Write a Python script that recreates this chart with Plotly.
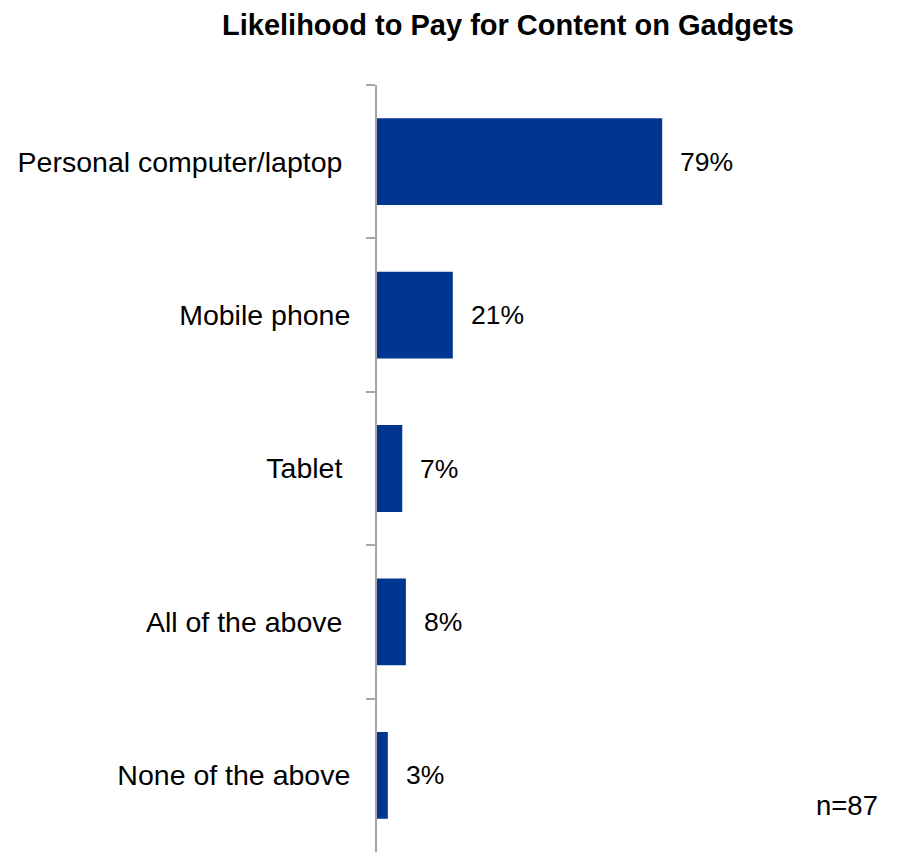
import plotly.graph_objects as go

# Survey responses (n=87)
devices = [
    "Personal computer/laptop\u00a0",
    "Mobile phone",
    "Tablet\u00a0",
    "All of the above\u00a0",
    "None of the above",
]
shares = [79, 21, 7, 8, 3]
sample_note = "n=87"
title_text = "<b>Likelihood to Pay for Content on Gadgets</b>"

bar_color = "#003591"
axis_color = "#A6A6A6"
font_family = "Liberation Sans, Arial, sans-serif"

W, H = 901, 852
L, R, T, B = 377, 163, 85, 0
plot_w, plot_h = W - L - R, H - T - B

fig = go.Figure(
    go.Bar(
        x=shares,
        y=devices,
        orientation="h",
        marker=dict(color=bar_color, line=dict(width=0)),
        width=0.566,
        hoverinfo="skip",
    )
)

# value labels to the right of each bar
for dev, val in zip(devices, shares):
    fig.add_annotation(
        x=val, y=dev, xref="x", yref="y",
        text=f"{val}%", showarrow=False,
        xanchor="left", xshift=16,
        font=dict(size=26.5, color="#000000", family=font_family),
    )

# sample size note, bottom right
fig.add_annotation(
    x=(880 - L) / plot_w, y=(H - 805) / plot_h,
    xref="paper", yref="paper",
    text=sample_note, showarrow=False,
    xanchor="right", yanchor="middle",
    font=dict(size=27.5, color="#000000", family=font_family),
)

fig.update_layout(
    width=W, height=H,
    margin=dict(l=L, r=R, t=T, b=B),
    paper_bgcolor="white", plot_bgcolor="white",
    showlegend=False,
    title=dict(
        text=title_text,
        x=508 / W, xanchor="center",
        y=1 - 25 / H, yanchor="middle",
        font=dict(size=29, color="#000000", family=font_family),
    ),
    xaxis=dict(visible=False, range=[0, 100], fixedrange=True),
    yaxis=dict(
        autorange=False, range=[4.5, -0.5],
        showline=True, linecolor=axis_color, linewidth=2,
        ticks="outside", ticklen=9, tickwidth=2, tickcolor=axis_color,
        tickson="boundaries",
        showgrid=False, zeroline=False,
        ticklabelstandoff=19,
        tickfont=dict(size=28.5, color="#000000", family=font_family),
        fixedrange=True,
    ),
)

fig.write_html("out.html")
